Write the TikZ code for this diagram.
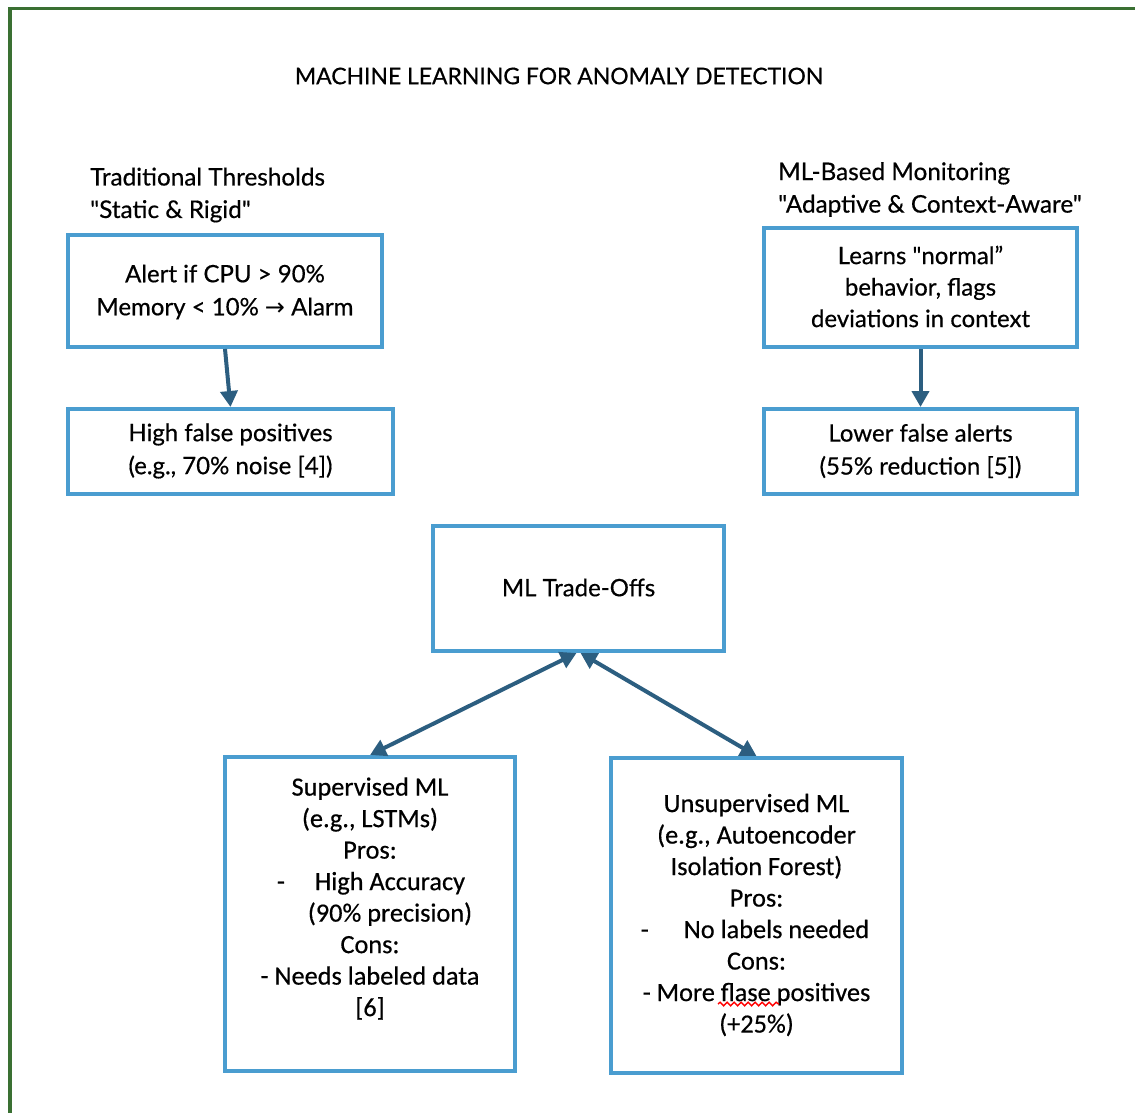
\documentclass[tikz,border=0pt]{standalone}
\usepackage{fontspec}
\setmainfont{Lato}[Ligatures=TeXOff,FakeBold=0.5]
\newfontfamily\narrowfont{Carlito}[Ligatures=TeXOff,FakeBold=0.5]
\newfontfamily\symfont{DejaVu Sans}
\usetikzlibrary{arrows.meta,decorations.pathmorphing}
\definecolor{boxblue}{RGB}{74,157,208}
\definecolor{arrowblue}{RGB}{44,94,128}
\definecolor{framegreen}{RGB}{58,112,50}
\newcommand{\dq}{\char34\relax}
\begin{document}
\begin{tikzpicture}[x=1pt,y=-1pt,
  box/.style={draw=boxblue,line width=4pt,rectangle,inner sep=0pt},
  txt/.style={align=center,inner sep=0pt,font=\fontsize{24}{33}\selectfont},
  ntxt/.style={align=center,inner sep=0pt,font=\narrowfont\fontsize{26.3}{31.5}\selectfont},
  head/.style={align=left,inner sep=0pt,anchor=west,font=\fontsize{24.3}{32.5}\selectfont},
  arr/.style={draw=arrowblue,line width=4pt,-{Triangle[length=16pt,width=17pt]}},
  darr/.style={draw=arrowblue,line width=4pt,{Triangle[length=16pt,width=17pt]}-{Triangle[length=16pt,width=17pt]}}
]
\useasboundingbox (0,0) rectangle (1135,1113);
\draw[framegreen,line width=3.5pt] (10,1113) -- (10,8.5) -- (1135,8.5);

\node[txt,font=\fontsize{22.9}{25}\selectfont] (title) at (559,76) {MACHINE LEARNING FOR ANOMALY DETECTION};

\node[head] (lefthead) at (90,195) {Traditional Thresholds\\\dq Static \& Rigid\dq};
\node[head] (righthead) at (778,189.5) {ML-Based Monitoring\\\dq Adaptive \& Context-Aware\dq};

\node[box,minimum width=314pt,minimum height=112pt] (A) at (225,291) {};
\node[txt] (Atext) at (225,292) {Alert if CPU \textgreater{} 90\%\\Memory \textless{} 10\% {\symfont\fontsize{24}{24}\selectfont →} Alarm};

\node[box,minimum width=325pt,minimum height=85pt] (B) at (230.5,451.5) {};
\node[txt] (Btext) at (230.5,451) {High false positives\\(e.g., 70\% noise [4])};

\node[box,minimum width=313pt,minimum height=119pt] (C) at (920.5,287.5) {};
\node[txt,font=\fontsize{24}{31.5}\selectfont] (Ctext) at (920.5,286.5) {Learns \dq normal”\\behavior, flags\\deviations in context};

\node[box,minimum width=313pt,minimum height=85pt] (D) at (920.5,451.5) {};
\node[txt] (Dtext) at (920.5,451) {Lower false alerts\\(55\% reduction [5])};

\node[box,minimum width=291pt,minimum height=125pt] (E) at (578.5,588.5) {};
\node[txt] (Etext) at (578.5,587.5) {ML Trade-Offs};

\node[box,minimum width=290pt,minimum height=314pt] (F) at (370,914) {};
\node[ntxt] (Ftext) at (370,898.5) {Supervised ML\\(e.g., LSTMs)\\Pros:\\\hspace*{40pt}\llap{-\hspace{30pt}}High Accuracy\\\hspace*{40pt}(90\% precision)\\Cons:\\- Needs labeled data\\{[6]}};

\node[box,minimum width=291pt,minimum height=315pt] (G) at (756.5,915.5) {};
\node[ntxt] (Gtext) at (756.5,915) {Unsupervised ML\\(e.g., Autoencoder\\Isolation Forest)\\Pros:\\\hspace*{40pt}\llap{-\hspace{35pt}}No labels needed\\Cons:\\- More flase positives\\(+25\%)};

\coordinate (sq1) at (718,1004);
\coordinate (sq2) at (779,1004);
\draw[red,line width=1.4pt,decorate,decoration={snake,amplitude=1.8pt,segment length=7pt}] (sq1) -- (sq2);

\draw[arr] (A.south) -- (B.north);
\draw[arr] (C.south) -- (D.north);
\draw[darr] (F.north) -- ([xshift=-2pt]E.south);
\draw[darr] ([xshift=2pt]E.south) -- (G.north);
\end{tikzpicture}
\end{document}
